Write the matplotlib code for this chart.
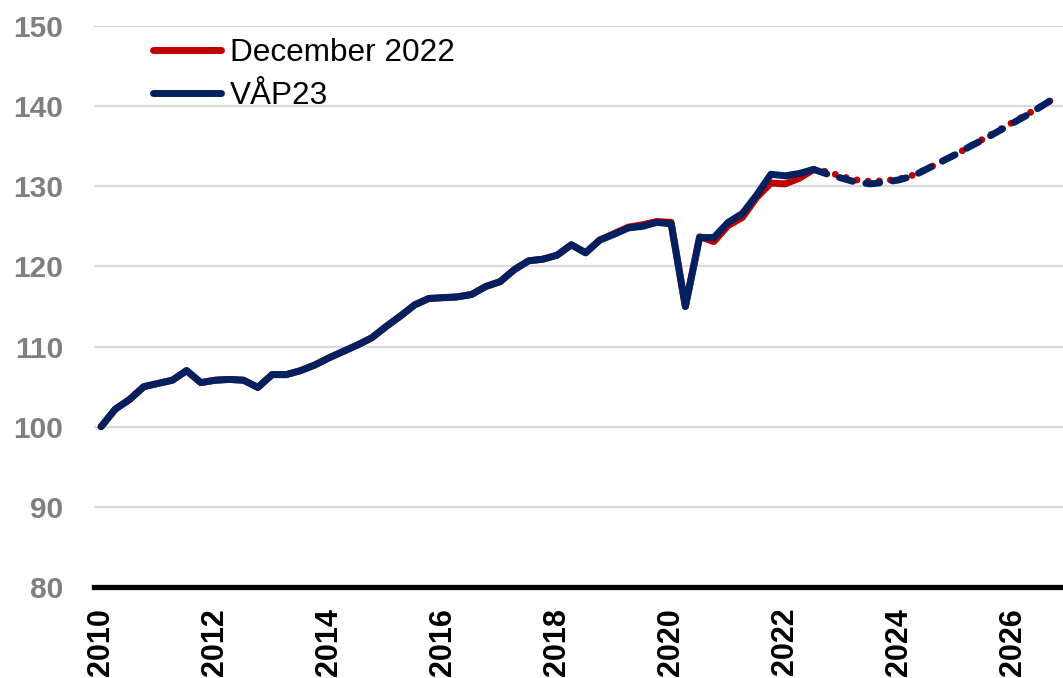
import matplotlib
matplotlib.use('Agg')
import matplotlib.pyplot as plt
from matplotlib.lines import Line2D

# quarterly index, 2010Q1 - 2026Q4
quarters = list(range(68))
year_ticks = [0, 8, 16, 24, 32, 40, 48, 56, 64]
year_labels = ['2010', '2012', '2014', '2016', '2018', '2020', '2022', '2024', '2026']
last_outcome = 50  # 2022Q3, forecast drawn dashed from here

dec2022 = [100.0, 102.2, 103.4, 105.0, 105.4, 105.8, 107.0, 105.5, 105.8, 105.9,
           105.8, 104.9, 106.5, 106.5, 107.0, 107.7, 108.6, 109.4, 110.2, 111.1,
           112.5, 113.8, 115.2, 116.0, 116.1, 116.2, 116.5, 117.5, 118.1, 119.6,
           120.7, 120.9, 121.4, 122.7, 121.7, 123.3, 124.1, 124.9, 125.2, 125.6,
           125.5, 115.0, 123.7, 123.1, 125.1, 126.1, 128.6, 130.4, 130.3, 131.0,
           132.1, 131.8, 131.2, 130.8, 130.6, 130.7, 130.9, 131.4, 132.2, 133.1,
           134.0, 135.0, 136.0, 137.0, 138.0, 139.0, 140.0, 141.1]

vap23 = [100.0, 102.2, 103.4, 105.0, 105.4, 105.8, 107.0, 105.5, 105.8, 105.9,
         105.8, 104.9, 106.5, 106.5, 107.0, 107.7, 108.6, 109.4, 110.2, 111.1,
         112.5, 113.8, 115.2, 116.0, 116.1, 116.2, 116.5, 117.5, 118.1, 119.6,
         120.7, 120.9, 121.4, 122.7, 121.7, 123.3, 124.0, 124.8, 125.0, 125.5,
         125.3, 115.0, 123.6, 123.6, 125.5, 126.6, 128.9, 131.5, 131.3, 131.6,
         132.1, 131.5, 131.0, 130.5, 130.3, 130.5, 130.8, 131.3, 132.2, 133.1,
         134.0, 135.0, 135.9, 136.9, 137.9, 138.9, 140.0, 141.1]

red = '#C00000'
navy = '#002060'
lw = 5.0

fig = plt.figure(figsize=(10.63, 6.78), dpi=100)
ax = fig.add_axes([0.0884, 0.1342, 0.9116, 0.8275])

n = last_outcome + 1
for serie, cor, traco in [(dec2022, red, (0.01, 1.6)), (vap23, navy, (2.0, 1.9))]:
    ax.plot(quarters[:n], serie[:n], color=cor, lw=lw,
            solid_capstyle='round', solid_joinstyle='round')
    ax.plot(quarters[last_outcome:], serie[last_outcome:], color=cor, lw=lw,
            dashes=traco, dash_capstyle='round', dash_joinstyle='round')

ax.set_xlim(-0.5, 67.5)
ax.set_ylim(80, 150)
ax.set_yticks([80, 90, 100, 110, 120, 130, 140, 150])
ax.set_xticks(year_ticks)
ax.set_xticklabels(year_labels, rotation=90, fontsize=22, fontweight='bold',
                   family='Liberation Sans', color='black')
for t in ax.get_yticklabels():
    t.set_fontsize(21.5)
    t.set_fontweight('bold')
    t.set_family('Liberation Sans')
    t.set_color('#7F7F7F')
ax.tick_params(axis='y', length=0, pad=22)
ax.tick_params(axis='x', length=0, pad=15)

ax.grid(axis='y', color='#D9D9D9', lw=1.6)
ax.set_axisbelow(True)
for s in ['top', 'right', 'left']:
    ax.spines[s].set_visible(False)
ax.spines['bottom'].set_color('black')
ax.spines['bottom'].set_linewidth(3.8)
ax.spines['bottom'].set_zorder(5)

handles = [Line2D([], [], color=red, lw=lw, solid_capstyle='round'),
           Line2D([], [], color=navy, lw=lw, solid_capstyle='round')]
leg = ax.legend(handles, ['December 2022', 'VÅP23'], loc='upper left',
                bbox_to_anchor=(153 / 1063, 1 - 38 / 678), bbox_transform=fig.transFigure,
                frameon=False, borderpad=0, borderaxespad=0, handlelength=2.15,
                handletextpad=0.3, labelspacing=0.4,
                prop={'family': 'Liberation Sans', 'size': 22.7})

plt.savefig('out.png', dpi=100)
